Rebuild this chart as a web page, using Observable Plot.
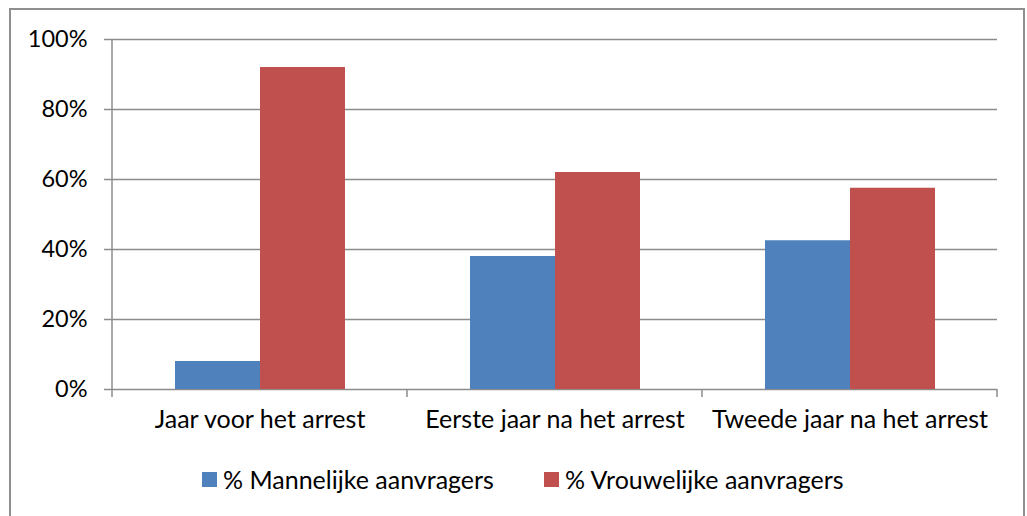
<!DOCTYPE html>
<html><head><meta charset="utf-8">
<script src="https://cdn.jsdelivr.net/npm/d3@7"></script>
<script src="https://cdn.jsdelivr.net/npm/@observablehq/plot@0.6"></script>
<style>
body{margin:0;background:#fff;font-family:Lato,sans-serif;}
#wrap{position:relative;width:1027px;height:516px;overflow:hidden;}
#border{position:absolute;left:9px;top:8px;width:1016px;height:530px;border:2px solid #8f8f8f;box-sizing:border-box;}
#chart{position:absolute;left:0;top:0;}
.leg{position:absolute;top:464px;display:flex;align-items:center;font-size:25px;color:#000;white-space:nowrap;}
.sw{width:15px;height:15px;margin-right:6px;}
</style></head>
<body><div id="wrap"><div id="border"></div><div id="chart"></div><div id="legend"></div></div>
<script>
const categories = ["Jaar voor het arrest","Eerste jaar na het arrest","Tweede jaar na het arrest"];
const series = ["% Mannelijke aanvragers","% Vrouwelijke aanvragers"];
const male = [0.08, 0.38, 0.425];
const female = [0.92, 0.62, 0.575];
const colors = ["#4F81BD","#C0504D"];
const yTicks = [0, 0.2, 0.4, 0.6, 0.8, 1];

const data = [];
categories.forEach((c,i)=>{
  data.push({cat:c, series:series[0], value:male[i]});
  data.push({cat:c, series:series[1], value:female[i]});
});

const grid = "#8c8c8c";
const plot = Plot.plot({
  width:1027, height:450,
  marginTop:39, marginLeft:112, marginRight:30, marginBottom:61,
  style:{fontFamily:"Lato, sans-serif", background:"transparent", color:"#000"},
  fx:{domain:categories, padding:0, label:null},
  x:{domain:series, paddingInner:0, paddingOuter:0.735, axis:null},
  y:{domain:[0,1], label:null},
  color:{domain:series, range:colors},
  marks:[
    Plot.gridY(yTicks, {stroke:grid, strokeOpacity:1, strokeWidth:1.5}),
    Plot.barY(data, {fx:"cat", x:"series", y:"value", fill:"series", inset:0}),
    Plot.axisY(yTicks, {tickFormat:d=>Math.round(d*100)+"%", tickSize:8, tickPadding:17, fontSize:23.5, stroke:grid, strokeWidth:1.5, label:null}),
    Plot.axisFx({anchor:"bottom", tickSize:0, tickPadding:21, fontSize:25, label:null})
  ]
});

// axis line and category boundary ticks, positioned through Plot's own scales
const fx = plot.scale("fx"), y = plot.scale("y");
const svg = d3.select(plot);
const bounds = categories.map(c=>fx.apply(c)).concat([fx.apply(categories[categories.length-1]) + fx.bandwidth]);
const y0 = y.apply(0), y1 = y.apply(1);
svg.append("line").attr("x1",bounds[0]).attr("x2",bounds[0]).attr("y1",y1).attr("y2",y0+8)
  .attr("stroke",grid).attr("stroke-width",1.5);
bounds.slice(1).forEach(b=>{
  svg.append("line").attr("x1",b).attr("x2",b).attr("y1",y0).attr("y2",y0+8)
    .attr("stroke",grid).attr("stroke-width",1.5);
});
document.getElementById("chart").appendChild(plot);

const legend = document.getElementById("legend");
const legLeft = [202, 544];
series.forEach((s,i)=>{
  const d = document.createElement("div");
  d.className="leg"; d.style.left = legLeft[i]+"px";
  d.innerHTML = `<div class="sw" style="background:${colors[i]}"></div><span>${s}</span>`;
  legend.appendChild(d);
});
</script></body></html>
